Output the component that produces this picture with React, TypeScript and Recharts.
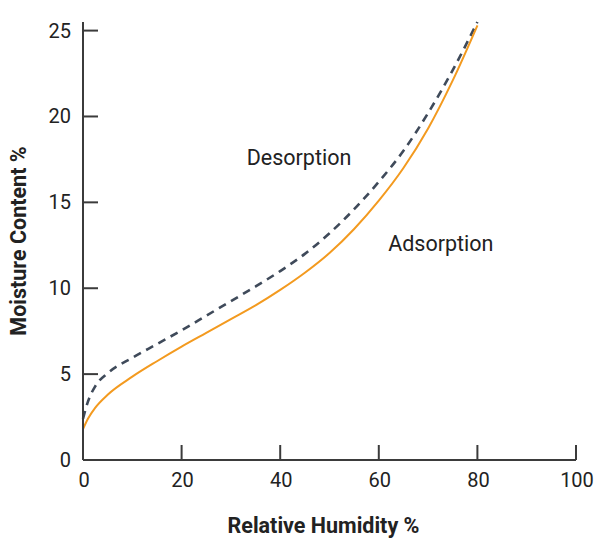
import { LineChart, Line, XAxis, YAxis, ReferenceDot } from 'recharts';

const humidity = [0, 1, 2.5, 5, 10, 15, 20, 25, 30, 35, 40, 45, 50, 55, 60, 65, 70, 75, 80];
const adsorption = [1.8, 2.4, 3.05, 3.8, 4.85, 5.75, 6.6, 7.4, 8.2, 9.0, 9.9, 10.9, 12.05, 13.45, 15.1, 17.0, 19.3, 22.1, 25.3];
const desorption = [2.4, 3.4, 4.3, 5.05, 5.95, 6.75, 7.55, 8.4, 9.25, 10.1, 11.0, 12.0, 13.2, 14.6, 16.2, 18.0, 20.2, 22.7, 25.5];

const xTicks = [0, 20, 40, 60, 80, 100];
const yTicks = [0, 5, 10, 15, 20, 25];

const data = humidity.map((h, i) => ({ rh: h, ads: adsorption[i], des: desorption[i] }));

const AXIS = '#3b3b3b';
const FONT = 'Roboto, "DejaVu Sans", sans-serif';

function YTick({ x, y, payload }: any) {
  return (
    <g>
      <line x1={x} x2={x + 15} y1={y} y2={y} stroke={AXIS} strokeWidth={2} />
      <text x={x - 12} y={y} textAnchor="end" dominantBaseline="central" fontSize={20} fill="#222" fontFamily={FONT}>
        {payload.value}
      </text>
    </g>
  );
}

function XTick({ x, y, payload }: any) {
  return (
    <g>
      <line x1={x} x2={x} y1={y} y2={y - 15} stroke={AXIS} strokeWidth={2} />
      <text x={x + 1} y={y + 20} textAnchor="middle" dominantBaseline="central" fontSize={20} fill="#222" fontFamily={FONT}>
        {payload.value}
      </text>
    </g>
  );
}

function curveLabel(text: string) {
  return ({ viewBox }: any) => (
    <text x={viewBox.x} y={viewBox.y} textAnchor="start" dominantBaseline="central" fontSize={21.5} fill="#222" fontFamily={FONT}>
      {text}
    </text>
  );
}

export default function App() {
  return (
    <div style={{ position: 'absolute', left: 0, top: 0, width: 594, height: 543, background: '#fff' }}>
      <LineChart width={594} height={543} data={data} margin={{ top: 22, right: 18, left: 0, bottom: 0 }}>
        <XAxis
          dataKey="rh"
          type="number"
          domain={[0, 100]}
          ticks={xTicks}
          tick={<XTick />}
          tickLine={false}
          tickSize={0}
          tickMargin={0}
          axisLine={{ stroke: AXIS, strokeWidth: 2 }}
          height={83}
          interval={0}
          label={({ viewBox }: any) => (
            <text x={viewBox.x + viewBox.width / 2 - 6} y={viewBox.y + 65} textAnchor="middle" dominantBaseline="central" fontSize={21.5} fontWeight="bold" fill="#222" fontFamily={FONT}>
              Relative Humidity %
            </text>
          )}
        />
        <YAxis
          type="number"
          domain={[0, 25]}
          ticks={yTicks}
          tick={<YTick />}
          tickLine={false}
          tickSize={0}
          tickMargin={0}
          axisLine={{ stroke: AXIS, strokeWidth: 2 }}
          width={83}
          interval={0}
          label={({ viewBox }: any) => (
            <text x={18} y={viewBox.y + viewBox.height / 2} transform={`rotate(-90 18 ${viewBox.y + viewBox.height / 2})`} textAnchor="middle" dominantBaseline="central" fontSize={21.5} fontWeight="bold" fill="#222" fontFamily={FONT}>
              Moisture Content %
            </text>
          )}
        />
        <Line
          type="monotone"
          dataKey="des"
          stroke="#3f4a5a"
          strokeWidth={2.6}
          strokeDasharray="8 6"
          dot={false}
          isAnimationActive={false}
        />
        <Line
          type="monotone"
          dataKey="ads"
          stroke="#f39a1f"
          strokeWidth={2}
          dot={false}
          isAnimationActive={false}
        />
        <ReferenceDot x={33.2} y={17.6} r={0} label={curveLabel('Desorption')} />
        <ReferenceDot x={61.9} y={12.6} r={0} label={curveLabel('Adsorption')} />
      </LineChart>
    </div>
  );
}
